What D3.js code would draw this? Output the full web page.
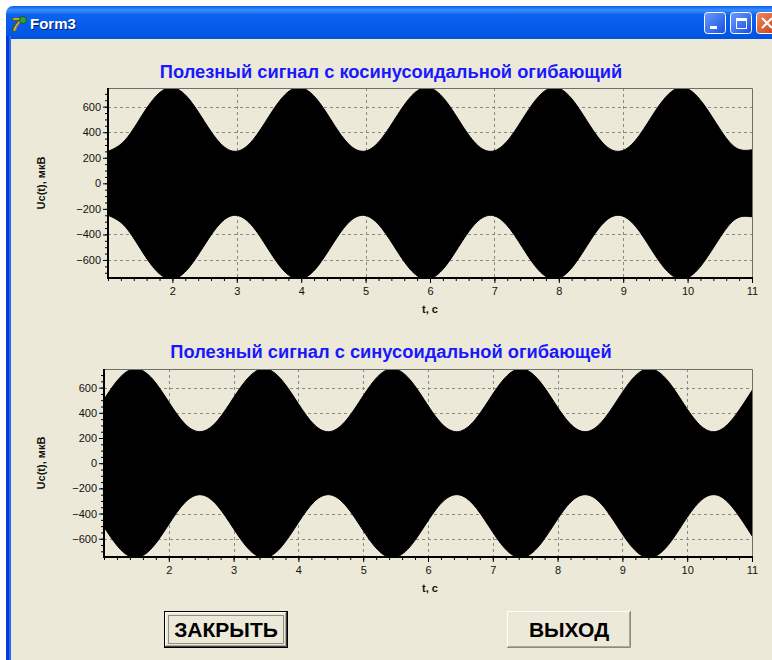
<!DOCTYPE html>
<html>
<head>
<meta charset="utf-8">
<script src="https://cdn.jsdelivr.net/npm/d3@7"></script>
<style>
    html, body { margin: 0; padding: 0; background: #ffffff; }
    svg { display: block; }
    text { font-family: "Liberation Sans", Arial, sans-serif; }
</style>
</head>
<body>
<div id="form"></div>
<script>
// values (envelope amplitude, мкВ) at t = 1, 1.25 ... 11
const sampleTimes = d3.range(41).map(i => 1 + i * 0.25);

const cosEnvelope = [
    250, 330, 510, 685, 750, 665, 482, 310, 251, 340,
    525, 695, 748, 654, 468, 301, 253, 352, 539, 703,
    746, 643, 454, 293, 255, 363, 553, 711, 744, 631,
    440, 285, 258, 375, 567, 718, 740, 618, 427, 278,
    262
];

const sinEnvelope = [
    507, 683, 750, 668, 486, 312, 251, 338, 521, 692,
    749, 657, 472, 303, 252, 349, 535, 701, 747, 646,
    458, 295, 254, 360, 549, 709, 744, 634, 444, 287,
    257, 372, 563, 717, 741, 622, 430, 280, 261, 385,
    577
];

const timeTicks = [2, 3, 4, 5, 6, 7, 8, 9, 10, 11];
const valueTicks = [-600, -400, -200, 0, 200, 400, 600];

const chartTitles = [
    'Полезный сигнал с косинусоидальной огибающий',
    'Полезный сигнал с синусоидальной огибающей'
];
const yLabel = 'Uc(t), мкВ';
const xLabel = 't, с';
const buttonLabels = ['ЗАКРЫТЬ', 'ВЫХОД'];

const width = 772;
const height = 660;

const panels = [
    { envelope: cosEnvelope, title: chartTitles[0], left: 108, right: 752, top: 88, bottom: 278,
      yDomain: [-741, 746], titleX: 391, titleY: 78 },
    { envelope: sinEnvelope, title: chartTitles[1], left: 104, right: 752, top: 369, bottom: 557,
      yDomain: [-745, 748], titleX: 391, titleY: 358 }
];

const svg = d3.select('#form')
    .append('svg')
    .attr('width', width)
    .attr('height', height);

const defs = svg.append('defs');

function drawWindow() {
    const bar = defs.append('linearGradient')
        .attr('id', 'titleGrad')
        .attr('x1', 0).attr('y1', 0).attr('x2', 0).attr('y2', 1);
    [['0%', '#0a5cf0'], ['10%', '#3d8ffc'], ['22%', '#0b63ee'], ['80%', '#0054e3'], ['100%', '#0046cf']]
        .forEach(([o, c]) => bar.append('stop').attr('offset', o).attr('stop-color', c));

    svg.append('rect')
        .attr('x', 6).attr('y', 6)
        .attr('width', width).attr('height', 40)
        .attr('rx', 7)
        .attr('fill', 'url(#titleGrad)');

    svg.append('rect')
        .attr('x', 6).attr('y', 36)
        .attr('width', 5).attr('height', height - 36)
        .attr('fill', '#0838d8');
    svg.append('rect')
        .attr('x', 9).attr('y', 36)
        .attr('width', 2).attr('height', height - 36)
        .attr('fill', '#2a6af0');

    svg.append('rect')
        .attr('x', 11).attr('y', 39)
        .attr('width', width - 11).attr('height', height - 39)
        .attr('fill', '#ece9d8');

    // little app icon
    svg.append('text')
        .attr('x', 11).attr('y', 31)
        .attr('font-size', 19)
        .attr('font-weight', 'bold')
        .attr('font-style', 'italic')
        .attr('fill', '#e8c020')
        .attr('stroke', '#6a5000')
        .attr('stroke-width', 0.7)
        .text('7');
    svg.append('circle')
        .attr('cx', 23).attr('cy', 20).attr('r', 3.5)
        .attr('fill', '#3a9a40')
        .attr('stroke', '#1a5a20');

    svg.append('text')
        .attr('x', 31).attr('y', 30)
        .attr('font-family', '"DejaVu Sans Condensed", "DejaVu Sans", sans-serif')
        .attr('font-size', 15)
        .attr('font-weight', 'bold')
        .attr('fill', '#0a1a70')
        .text('Form3');
    svg.append('text')
        .attr('x', 30).attr('y', 29)
        .attr('font-family', '"DejaVu Sans Condensed", "DejaVu Sans", sans-serif')
        .attr('font-size', 15)
        .attr('font-weight', 'bold')
        .attr('fill', '#ffffff')
        .text('Form3');

    const btnGrad = defs.append('linearGradient')
        .attr('id', 'btnGrad')
        .attr('x1', 0).attr('y1', 0).attr('x2', 1).attr('y2', 1);
    btnGrad.append('stop').attr('offset', '0%').attr('stop-color', '#6d9cff');
    btnGrad.append('stop').attr('offset', '100%').attr('stop-color', '#1550e0');

    const closeGrad = defs.append('linearGradient')
        .attr('id', 'closeGrad')
        .attr('x1', 0).attr('y1', 0).attr('x2', 1).attr('y2', 1);
    closeGrad.append('stop').attr('offset', '0%').attr('stop-color', '#f08a60');
    closeGrad.append('stop').attr('offset', '100%').attr('stop-color', '#c83c14');

    [704, 730].forEach(bx => {
        svg.append('rect')
            .attr('x', bx + 0.5).attr('y', 12.5)
            .attr('width', 21).attr('height', 21)
            .attr('rx', 3)
            .attr('fill', 'url(#btnGrad)')
            .attr('stroke', '#ffffff');
    });
    svg.append('rect')
        .attr('x', 756.5).attr('y', 12.5)
        .attr('width', 21).attr('height', 21)
        .attr('rx', 3)
        .attr('fill', 'url(#closeGrad)')
        .attr('stroke', '#ffffff');

    svg.append('rect')
        .attr('x', 710).attr('y', 26)
        .attr('width', 7).attr('height', 3)
        .attr('fill', '#ffffff');
    svg.append('rect')
        .attr('x', 736.5).attr('y', 18.5)
        .attr('width', 10).attr('height', 10)
        .attr('fill', 'none')
        .attr('stroke', '#ffffff');
    svg.append('rect')
        .attr('x', 736).attr('y', 18)
        .attr('width', 11).attr('height', 3)
        .attr('fill', '#ffffff');
    svg.append('path')
        .attr('d', 'M762,18 L772,28 M772,18 L762,28')
        .attr('stroke', '#ffffff')
        .attr('stroke-width', 2.2);
}

function drawPanel(p, i) {
    const x = d3.scaleLinear().domain([1, 11]).range([p.left, p.right]);
    const y = d3.scaleLinear().domain(p.yDomain).range([p.bottom, p.top]);

    const g = svg.append('g').attr('class', 'panel');

    defs.append('clipPath')
        .attr('id', `plotClip${i}`)
        .append('rect')
        .attr('x', p.left).attr('y', p.top)
        .attr('width', p.right - p.left).attr('height', p.bottom - p.top);

    // dashed grid
    g.append('g')
        .selectAll('line')
        .data(timeTicks.filter(t => t < 11))
        .enter().append('line')
        .attr('x1', d => Math.round(x(d)) + 0.5)
        .attr('x2', d => Math.round(x(d)) + 0.5)
        .attr('y1', p.top)
        .attr('y2', p.bottom)
        .attr('stroke', '#8a8a8a')
        .attr('stroke-dasharray', '3,3');

    g.append('g')
        .selectAll('line')
        .data(valueTicks)
        .enter().append('line')
        .attr('x1', p.left)
        .attr('x2', p.right)
        .attr('y1', d => Math.round(y(d)) + 0.5)
        .attr('y2', d => Math.round(y(d)) + 0.5)
        .attr('stroke', '#8a8a8a')
        .attr('stroke-dasharray', '3,3');

    const samples = sampleTimes.map((t, k) => ({ t, a: p.envelope[k] }));

    const area = d3.area()
        .x(d => x(d.t))
        .y0(d => y(-d.a))
        .y1(d => y(d.a))
        .curve(d3.curveNatural);

    g.append('path')
        .datum(samples)
        .attr('clip-path', `url(#plotClip${i})`)
        .attr('d', area)
        .attr('fill', '#000000')
        .attr('stroke', '#000000')
        .attr('stroke-width', 1);

    // frame, top and right
    g.append('path')
        .attr('d', `M${p.left},${p.top + 0.5}H${p.right + 0.5}V${p.bottom}`)
        .attr('fill', 'none')
        .attr('stroke', '#6e6e6e');

    // minor ticks
    g.append('g')
        .attr('transform', `translate(0,${p.bottom})`)
        .call(d3.axisBottom(x).tickValues(x.ticks(40)).tickSize(3).tickFormat(''))
        .call(a => a.select('.domain').remove());
    g.append('g')
        .attr('transform', `translate(${p.left},0)`)
        .call(d3.axisLeft(y).tickValues(y.ticks(30)).tickSize(3).tickFormat(''))
        .call(a => a.select('.domain').remove());

    const xAxis = g.append('g')
        .attr('transform', `translate(0,${p.bottom})`)
        .call(d3.axisBottom(x).tickValues(timeTicks).tickSize(5).tickSizeOuter(0).tickPadding(4));
    const yAxis = g.append('g')
        .attr('transform', `translate(${p.left},0)`)
        .call(d3.axisLeft(y).tickValues(valueTicks).tickSize(5).tickSizeOuter(0).tickPadding(2));

    [xAxis, yAxis].forEach(a => {
        a.select('.domain').attr('stroke', '#000000').attr('stroke-width', 2);
        a.selectAll('text')
            .attr('font-family', '"Liberation Sans", Arial, sans-serif')
            .attr('font-size', 11)
            .attr('fill', '#111111');
    });
    // the y-axis domain should span the full plot, x to the right edge
    yAxis.select('.domain').attr('d', `M0,${p.bottom + 1}V${p.top}`);
    xAxis.select('.domain').attr('d', `M${p.left - 1},0H${p.right + 1}`);

    g.append('text')
        .attr('x', p.titleX)
        .attr('y', p.titleY)
        .attr('text-anchor', 'middle')
        .attr('font-size', 18.3)
        .attr('font-weight', 'bold')
        .attr('fill', '#1818ff')
        .text(p.title);

    g.append('text')
        .attr('transform', `translate(45,${(p.top + p.bottom) / 2}) rotate(-90)`)
        .attr('text-anchor', 'middle')
        .attr('font-size', 11)
        .attr('font-weight', 'bold')
        .attr('fill', '#111111')
        .text(yLabel);

    g.append('text')
        .attr('x', 430)
        .attr('y', p.bottom + 35)
        .attr('text-anchor', 'middle')
        .attr('font-size', 11)
        .attr('font-weight', 'bold')
        .attr('fill', '#111111')
        .text(xLabel);
}

function drawButton(label, bx, by, bw, bh, isDefault) {
    const b = svg.append('g').attr('class', 'button');

    b.append('rect')
        .attr('x', bx).attr('y', by)
        .attr('width', bw).attr('height', bh)
        .attr('fill', '#ece9d8');

    const inset = isDefault ? 1 : 0;
    if (isDefault) {
        b.append('rect')
            .attr('x', bx + 0.5).attr('y', by + 0.5)
            .attr('width', bw - 1).attr('height', bh - 1)
            .attr('fill', 'none')
            .attr('stroke', '#000000');
    }
    b.append('path')
        .attr('d', `M${bx + inset + 0.5},${by + bh - inset - 1}V${by + inset + 0.5}H${bx + bw - inset - 1}`)
        .attr('fill', 'none')
        .attr('stroke', '#ffffff');
    b.append('path')
        .attr('d', `M${bx + inset},${by + bh - inset - 0.5}H${bx + bw - inset - 0.5}V${by + inset}`)
        .attr('fill', 'none')
        .attr('stroke', isDefault ? '#404040' : '#8a8a84');
    b.append('path')
        .attr('d', `M${bx + inset + 1},${by + bh - inset - 1.5}H${bx + bw - inset - 1.5}V${by + inset + 1}`)
        .attr('fill', 'none')
        .attr('stroke', '#aca899');

    if (isDefault) {
        b.append('rect')
            .attr('x', bx + 4.5).attr('y', by + 4.5)
            .attr('width', bw - 9).attr('height', bh - 9)
            .attr('fill', 'none')
            .attr('stroke', '#333333')
            .attr('stroke-dasharray', '1,1');
    }

    b.append('text')
        .attr('x', bx + bw / 2)
        .attr('y', by + bh / 2 + 7.5)
        .attr('text-anchor', 'middle')
        .attr('font-size', 21)
        .attr('font-weight', 'bold')
        .attr('fill', '#000000')
        .text(label);
}

drawWindow();
panels.forEach(drawPanel);
drawButton(buttonLabels[0], 164, 611, 124, 37, true);
drawButton(buttonLabels[1], 507, 611, 124, 37, false);
</script>
</body>
</html>
